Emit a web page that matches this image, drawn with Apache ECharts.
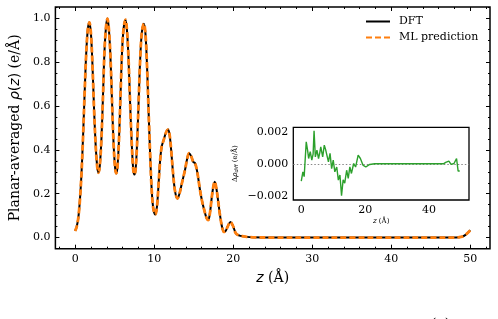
<!DOCTYPE html>
<html>
<head>
<meta charset="utf-8">
<script src="https://cdn.jsdelivr.net/npm/echarts@6.0.0/dist/echarts.min.js"></script>
<style>
html,body{margin:0;padding:0;background:#fff;}
#main{width:498px;height:319px;}
</style>
</head>
<body>
<div id="main"></div>
<script>
// planar-averaged density, DFT vs ML
var zMain = [0.0,0.2,0.4,0.6,0.8,1.0,1.2,1.4,1.6,1.8,2.0,2.2,2.4,2.6,2.8,2.95,3.1,3.3,3.5,3.7,3.9,4.08,4.25,4.45,4.65,4.85,5.05,5.2,5.35,5.55,5.75,5.95,6.15,6.37,6.55,6.75,6.95,7.15,7.35,7.5,7.65,7.85,8.05,8.25,8.45,8.7,8.9,9.1,9.3,9.5,9.7,9.9,10.15,10.35,10.55,10.75,10.95,11.2,11.5,11.75,11.95,12.15,12.4,12.65,12.95,13.2,13.5,13.9,14.15,14.42,14.7,14.95,15.17,15.45,15.8,16.1,16.4,16.62,16.84,17.05,17.25,17.45,17.66,17.87,18.08,18.3,18.5,18.65,18.83,19.05,19.3,19.65,19.95,20.36,20.8,21.2,21.7,22.5,25,30,35,40,45,48,48.5,49,49.4,49.7,50];
var rhoDft = [0.03,0.05,0.09,0.17,0.29,0.46,0.66,0.84,0.95,0.983,0.93,0.78,0.58,0.42,0.32,0.296,0.32,0.43,0.62,0.84,0.96,1.0,0.96,0.84,0.64,0.44,0.32,0.293,0.32,0.45,0.66,0.86,0.96,0.995,0.95,0.82,0.62,0.44,0.31,0.288,0.31,0.44,0.64,0.83,0.94,0.977,0.93,0.78,0.57,0.37,0.21,0.13,0.105,0.14,0.24,0.35,0.415,0.445,0.48,0.493,0.47,0.40,0.29,0.21,0.178,0.20,0.247,0.308,0.355,0.385,0.37,0.345,0.34,0.30,0.217,0.16,0.117,0.09,0.08,0.11,0.171,0.225,0.255,0.225,0.171,0.11,0.064,0.04,0.026,0.03,0.05,0.071,0.055,0.018,0.009,0.006,0.003,0.001,0,0,0,0,0,0,0.001,0.004,0.012,0.022,0.033];
var rhoMl = rhoDft.slice();

// inset: difference
var zDiff = [0,0.5,0.9,1.55,2.0,2.3,2.8,3.3,3.7,4.0,4.4,4.9,5.4,5.8,6.1,6.7,7.2,7.6,8.0,8.5,9.0,9.5,10.0,10.5,11.1,11.6,12.1,12.6,13.1,13.6,14.2,14.7,15.2,15.7,16.4,17.0,17.8,18.5,19.3,20.2,21.4,23,30,40,44.5,45.2,46.2,46.9,47.8,48.6,49.1,49.6];
var dRho = [-0.00107,-0.0005,-0.0008,0.00137,0.0008,0.00033,0.00075,0.00023,0.0006,0.00205,0.00043,0.00085,0.00033,0.0007,0.00106,0.00043,0.00116,0.0009,0.00085,0.00012,0.00065,-0.0003,0.00023,-0.0005,-0.0002,-0.00101,-0.0007,-0.00198,-0.001,-0.0012,-0.0004,-0.0009,-0.00019,-0.0006,0.00002,-0.0002,0.00054,0.00033,-0.00008,-0.0002,-0.00004,0,0,0,0,0.00009,0.00017,-0.00004,0.00002,0.00033,-0.00045,-0.00045];

var xMajor = [0,10,20,30,40,50];
var xMinor = [-2,2,4,6,8,12,14,16,18,22,24,26,28,32,34,36,38,42,44,46,48,52];
var yMajor = [0,0.2,0.4,0.6,0.8,1.0];
var yMinor = [-0.05,0.05,0.1,0.15,0.25,0.3,0.35,0.45,0.5,0.55,0.65,0.7,0.75,0.85,0.9,0.95,1.05];
var insetXTicks = [0,20,40];
var insetYTicks = [-0.002,0,0.002];

var serif = 'DejaVu Serif';

function pairs(xs, ys) {
	var out = [];
	for (var i = 0; i < xs.length; i++) out.push([xs[i], ys[i]]);
	return out;
}

function ax(grid, pos, min, max, ticks, len, labelFmt) {
	var a = {
		type: 'value', gridIndex: grid, position: pos, min: min, max: max,
		axisLine: {show: false, onZero: false},
		splitLine: {show: false},
		axisTick: {show: true, inside: true, length: len, customValues: ticks,
			lineStyle: {color: '#000', width: 1}},
		axisLabel: {show: false}
	};
	if (labelFmt) {
		a.axisLabel = {show: true, customValues: ticks, formatter: labelFmt,
			color: '#000', fontFamily: serif, fontSize: 11, margin: 5};
	}
	return a;
}

var myChart = echarts.init(document.getElementById('main'));

var xAxes = [
	ax(0, 'bottom', -2.5, 52.5, xMajor, 4, function(v){ return String(v); }),
	ax(0, 'bottom', -2.5, 52.5, xMinor, 2),
	ax(0, 'top', -2.5, 52.5, xMajor, 4),
	ax(0, 'top', -2.5, 52.5, xMinor, 2),
	ax(1, 'bottom', -2.5, 52.5, insetXTicks, 3, function(v){ return String(v); }),
	ax(1, 'top', -2.5, 52.5, insetXTicks, 3)
];
xAxes[0].name = '{i|z}{n| (Å)}';
xAxes[0].nameLocation = 'middle';
xAxes[0].nameGap = 23;
xAxes[0].nameTextStyle = {rich: {
	i: {fontFamily: 'DejaVu Sans', fontStyle: 'italic', fontSize: 14, color: '#000'},
	n: {fontFamily: serif, fontSize: 14, color: '#000'}
}};
xAxes[4].name = '{i|z}{n| (Å)}';
xAxes[4].nameLocation = 'middle';
xAxes[4].nameGap = 18;
xAxes[4].nameTextStyle = {rich: {
	i: {fontFamily: 'DejaVu Sans', fontStyle: 'italic', fontSize: 7, color: '#000'},
	n: {fontFamily: serif, fontSize: 7, color: '#000'}
}};

var yAxes = [
	ax(0, 'left', -0.051, 1.053, yMajor, 4, function(v){ return v.toFixed(1); }),
	ax(0, 'left', -0.051, 1.053, yMinor, 2),
	ax(0, 'right', -0.051, 1.053, yMajor, 4),
	ax(0, 'right', -0.051, 1.053, yMinor, 2),
	ax(1, 'left', -0.00225, 0.00227, insetYTicks, 3, function(v){ return v.toFixed(3).replace('-', '\u2212'); }),
	ax(1, 'right', -0.00225, 0.00227, insetYTicks, 3)
];
yAxes[0].name = '{n|Planar-averaged }{i|ρ}{s|(}{i|z}{s|)}{n| (e/Å)}';
yAxes[0].nameLocation = 'middle';
yAxes[0].nameGap = 32;
yAxes[0].nameTextStyle = {rich: {
	i: {fontFamily: 'DejaVu Sans', fontStyle: 'italic', fontSize: 14, color: '#000'},
	s: {fontFamily: 'DejaVu Sans', fontSize: 14, color: '#000'},
	n: {fontFamily: serif, fontSize: 14, color: '#000'}
}};
yAxes[4].name = '{n|Δ}{i|ρ}{b|diff}{n| (e/Å)}';
yAxes[4].nameLocation = 'middle';
yAxes[4].nameGap = 54;
yAxes[4].nameTextStyle = {rich: {
	i: {fontFamily: 'DejaVu Sans', fontStyle: 'italic', fontSize: 7, color: '#000'},
	b: {fontFamily: 'DejaVu Sans', fontStyle: 'italic', fontSize: 5, color: '#000', padding: [3, 0, 0, 0]},
	n: {fontFamily: serif, fontSize: 7, color: '#000'}
}};

var option = {
	animation: false,
	backgroundColor: '#fff',
	grid: [
		{left: 52, top: 7, width: 438, height: 241.7, show: true, borderColor: '#000', borderWidth: 1.5, backgroundColor: 'transparent'},
		{left: 293.3, top: 127.3, width: 175.7, height: 72.7, show: true, borderColor: '#000', borderWidth: 1.3, backgroundColor: '#fff', z: 5}
	],
	legend: {
		orient: 'vertical',
		left: 365,
		top: 16,
		padding: 0,
		itemWidth: 24,
		itemHeight: 12,
		itemGap: 5,
		itemStyle: {opacity: 0},
		textStyle: {fontFamily: serif, fontSize: 11, color: '#000', padding: [0, 0, 0, 4]},
		data: ['DFT', 'ML prediction']
	},
	xAxis: xAxes,
	yAxis: yAxes,
	graphic: [{
		type: 'text', left: 431, top: 318, z: 10,
		style: {text: '(a)', font: '14px "DejaVu Serif"', fill: '#000'}
	}],
	series: [{
		name: 'DFT',
		type: 'line',
		xAxisIndex: 0, yAxisIndex: 0,
		symbol: 'none',
		smooth: 0.35,
		lineStyle: {color: '#000', width: 2},
		itemStyle: {color: '#000'},
		data: pairs(zMain, rhoDft)
	}, {
		name: 'ML prediction',
		type: 'line',
		xAxisIndex: 0, yAxisIndex: 0,
		symbol: 'none',
		smooth: 0.35,
		lineStyle: {color: '#ff7f0e', width: 2.8, type: [6, 3]},
		itemStyle: {color: '#ff7f0e'},
		data: pairs(zMain, rhoMl)
	}, {
		name: 'diff',
		type: 'line',
		xAxisIndex: 4, yAxisIndex: 4,
		symbol: 'none',
		z: 6,
		lineStyle: {color: '#2ca02c', width: 1.4},
		data: pairs(zDiff, dRho),
		markLine: {
			silent: true,
			symbol: 'none',
			label: {show: false},
			lineStyle: {color: '#888', type: [1.5, 2], width: 1},
			data: [{yAxis: 0}]
		}
	}]
};
myChart.setOption(option);
</script>
</body>
</html>
